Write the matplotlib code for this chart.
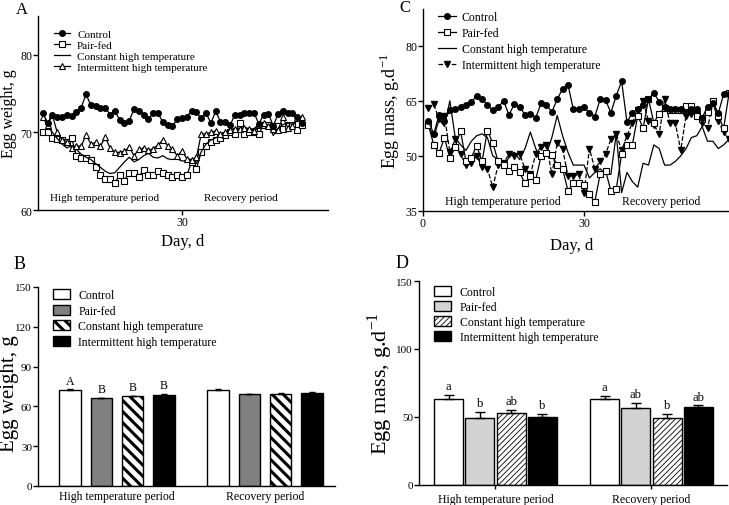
import numpy as np
import matplotlib
matplotlib.use("Agg")
import matplotlib.pyplot as plt
from matplotlib.patches import Patch
from matplotlib.lines import Line2D

plt.rcParams['font.family'] = ['Liberation Serif', 'DejaVu Serif']
plt.rcParams['mathtext.fontset'] = 'custom'
plt.rcParams['mathtext.rm'] = 'Liberation Serif'
plt.rcParams['axes.linewidth'] = 1.0

# ---------------- data ----------------
series_names = ["Control", "Pair-fed", "Constant high temperature", "Intermittent high temperature"]
period_labels = ["High temperature period", "Recovery period"]

# Panel A: daily egg weight (g)
ctrl_A = [72.5, 71.2, 72.3, 72.0, 72.0, 72.3, 72.1, 72.6, 73.2, 74.9,
          73.5, 73.4, 73.2, 73.2, 72.3, 72.8, 71.6, 71.2, 71.5, 73.0,
          72.8, 72.3, 71.7, 72.5, 72.5, 71.3, 71.0, 70.8, 71.7, 71.9,
          72.0, 72.8, 72.6, 71.8, 72.5, 71.2, 72.7, 71.4, 71.4, 70.9,
          72.3, 72.3, 72.5, 72.5, 72.5, 71.1, 72.3, 72.4, 70.8, 72.4,
          72.8, 72.5, 72.5, 72.0, 71.2]
pf_A = [70.0, 70.0, 69.3, 69.2, 69.0, 68.8, 69.3, 67.0, 66.7, 66.7,
        66.5, 65.5, 64.5, 64.0, 64.0, 63.5, 64.5, 63.8, 64.8, 64.8,
        64.3, 65.2, 64.5, 64.5, 65.0, 64.8, 64.5, 64.3, 64.5, 64.3,
        64.5, 66.2, 65.3, 67.5, 68.3, 68.8, 69.0, 69.3, 69.7, 70.0,
        69.8, 71.2, 69.8, 70.0, 70.0, 69.8, 71.0, 71.0, 70.8, 70.8,
        70.5, 70.8, 71.0, 70.3, 71.0]
const_A = [72.0, 70.8, 70.0, 69.2, 68.5, 68.0, 68.3, 67.8, 67.2, 66.8,
           66.5, 66.0, 65.5, 65.0, 64.7, 64.8, 65.5, 66.2, 66.8, 66.2,
           66.5, 67.0, 67.3, 66.8, 66.7, 67.0, 66.6, 66.5, 66.6, 66.3,
           66.4, 66.5, 66.0, 67.5, 68.5, 69.0, 69.3, 69.6, 70.0, 70.3,
           70.5, 70.3, 70.6, 70.4, 70.5, 71.0, 70.8, 71.0, 69.6, 70.5,
           71.0, 71.3, 71.0, 71.5, 71.6]
int_A = [72.0, 71.0, 72.2, 70.0, 69.0, 68.8, 68.0, 68.3, 68.2, 69.7,
         68.5, 68.7, 68.2, 69.4, 68.0, 67.5, 67.4, 67.6, 68.1, 67.0,
         67.8, 68.0, 67.7, 67.9, 68.4, 69.0, 68.3, 67.8, 67.0, 67.6,
         66.6, 66.5, 66.8, 69.8, 69.8, 70.0, 70.2, 69.8, 70.0, 70.3,
         70.5, 70.5, 70.6, 70.5, 70.2, 71.0, 71.2, 70.8, 70.5, 70.3,
         72.0, 70.6, 70.8, 71.8, 72.0]

# Panel C: daily egg mass (g/d)
ctrl_C = [59.5, 56.0, 61.2, 59.6, 62.4, 62.7, 63.4, 63.8, 64.6, 66.4,
          65.6, 63.8, 62.4, 63.2, 65.0, 61.2, 64.0, 63.4, 61.2, 61.5,
          60.4, 64.3, 63.8, 62.0, 65.4, 68.3, 69.4, 62.7, 62.7, 63.2,
          61.8, 60.7, 65.4, 65.2, 61.8, 66.4, 70.3, 59.2, 61.8, 62.7,
          63.8, 65.4, 67.2, 64.7, 63.4, 62.7, 62.7, 62.7, 61.8, 62.7,
          62.7, 60.4, 63.4, 64.5, 61.6, 66.8, 66.8]
pf_C = [58.5, 53.0, 50.8, 55.0, 49.3, 52.5, 56.8, 48.5, 49.5, 52.8,
        48.5, 56.9, 53.5, 48.5, 47.5, 46.0, 47.0, 45.5, 42.5, 44.5,
        43.5, 50.0, 50.8, 50.3, 47.5, 46.5, 40.5, 42.5, 42.5, 42.0,
        39.5, 37.5, 45.0, 46.0, 40.5, 41.0, 50.5, 53.0, 53.0, 61.0,
        57.5, 65.5, 59.0, 61.5, 63.0, 62.5, 62.5, 62.5, 63.5, 63.5,
        61.0, 60.0, 62.0, 65.0, 61.0, 57.5, 67.0]
const_C = [58.5, 55.0, 60.0, 58.0, 65.0, 55.0, 53.0, 51.5, 54.0, 55.5,
           56.0, 55.0, 50.0, 49.0, 47.5, 49.5, 51.0, 49.0, 52.0, 56.5,
           52.0, 49.5, 50.5, 55.0, 61.0, 55.5, 51.0, 47.5, 47.5, 47.5,
           44.0, 45.5, 46.5, 45.0, 45.0, 56.0, 40.0, 45.5, 43.0, 41.5,
           48.0, 47.5, 53.0, 52.0, 47.5, 47.5, 48.5, 50.0, 52.0, 55.0,
           55.5, 58.0, 54.0, 54.0, 52.0, 53.0, 54.5]
int_C = [63.0, 64.0, 60.0, 61.0, 51.0, 54.5, 50.5, 47.5, 48.0, 50.0,
         47.0, 46.5, 41.5, 47.5, 48.0, 50.5, 50.0, 50.5, 46.5, 45.0,
         50.5, 52.5, 53.0, 45.0, 53.5, 52.0, 44.5, 44.5, 45.0, 40.0,
         52.0, 46.5, 48.5, 50.5, 54.5, 56.0, 51.5, 55.5, 59.0, 62.5,
         65.0, 59.5, 58.5, 56.0, 65.5, 59.0, 59.0, 51.5, 61.0, 61.5,
         61.5, 59.0, 57.5, 64.5, 59.5, 56.5, 54.5]

# Panel B: mean egg weight per period (g) and SEM
egg_weight_means = [[72.0, 66.0, 67.5, 68.5], [72.0, 69.0, 69.5, 70.0]]
egg_weight_sem = [[0.8, 0.7, 0.6, 0.8], [0.8, 0.7, 0.6, 0.6]]
egg_weight_letters = [["A", "B", "B", "B"], ["", "", "", ""]]

# Panel D: mean egg mass per period (g/d) and SEM
egg_mass_means = [[63.0, 49.0, 53.0, 50.0], [63.0, 56.5, 49.0, 57.0]]
egg_mass_sem = [[3.0, 5.0, 2.0, 2.5], [2.5, 4.0, 3.5, 1.5]]
egg_mass_letters = [["a", "b", "ab", "b"], ["a", "ab", "b", "ab"]]

# ---------------- figure ----------------
W, H = 729, 506
fig = plt.figure(figsize=(W / 100, H / 100), dpi=100)


def px_axes(l, t, r, b):
    return fig.add_axes([l / W, 1 - b / H, (r - l) / W, (b - t) / H])


def style(ax, fs):
    for s in ('top', 'right'):
        ax.spines[s].set_visible(False)
    ax.tick_params(direction='out', length=3.5, width=1, labelsize=fs, pad=0.8)


lw = 0.9
# ---- Panel A ----
axA = px_axes(38, 17, 328, 211)
style(axA, 8.5)
dA = np.arange(1, len(ctrl_A) + 1)
axA.plot(dA, pf_A, '-', color='black', lw=lw, marker='s', ms=4, mfc='white', mec='black', mew=0.8)
axA.plot(dA, const_A, '-', color='black', lw=lw)
axA.plot(dA, int_A, '-', color='black', lw=lw, marker='^', ms=4.5, mfc='white', mec='black', mew=0.8)
axA.plot(dA, ctrl_A, '-', color='black', lw=lw, marker='o', ms=4, mfc='black', mec='black')
axA.set_xlim(0, 60.4)
axA.set_ylim(60, 85)
axA.set_xticks([30])
axA.set_yticks([60, 70, 80])
axA.set_xlabel("Day, d", fontsize=12)
axA.xaxis.set_label_coords(0.497, -0.12)
axA.set_ylabel("Egg weight, g", fontsize=11.5)
axA.yaxis.set_label_coords(-0.072, 0.5)
axA.text(2.5, 61.6, period_labels[0], fontsize=8, va='center')
axA.text(34.5, 61.6, period_labels[1], fontsize=8, va='center')
hA = [Line2D([], [], color='black', lw=lw, marker='o', ms=4, mfc='black'),
      Line2D([], [], color='black', lw=lw, marker='s', ms=4, mfc='white', mew=0.8),
      Line2D([], [], color='black', lw=lw),
      Line2D([], [], color='black', lw=lw, marker='^', ms=4.5, mfc='white', mew=0.8)]
axA.legend(hA, series_names, loc='upper left', bbox_to_anchor=(0.035, 0.96), frameon=False,
           fontsize=8, handlelength=1.5, labelspacing=0.1, borderpad=0, handletextpad=0.6)

# ---- Panel C ----
axC = px_axes(423, 10, 729, 212)
style(axC, 8.5)
dC = np.arange(1, len(ctrl_C) + 1)
axC.plot(dC, const_C, '-', color='black', lw=lw)
axC.plot(dC, int_C, '--', color='black', lw=lw, marker='v', ms=4, mfc='black', mec='black')
axC.plot(dC, pf_C, '-', color='black', lw=lw, marker='s', ms=4, mfc='white', mec='black', mew=0.8)
axC.plot(dC, ctrl_C, '-', color='black', lw=lw, marker='o', ms=4, mfc='black', mec='black')
axC.set_xlim(0, 57.0)
axC.set_ylim(35, 90)
axC.set_xticks([0, 30])
axC.set_yticks([35, 50, 65, 80])
axC.set_xlabel("Day, d", fontsize=12)
axC.xaxis.set_label_coords(0.487, -0.13)
axC.set_ylabel(r"Egg mass, g.d$^{\mathregular{-1}}$", fontsize=13)
axC.yaxis.set_label_coords(-0.068, 0.5)
axC.text(4.1, 37.6, period_labels[0], fontsize=8.5, va='center')
axC.text(37.0, 37.6, period_labels[1], fontsize=8.5, va='center')
hC = [Line2D([], [], color='black', lw=lw, marker='o', ms=4, mfc='black'),
      Line2D([], [], color='black', lw=lw, marker='s', ms=4, mfc='white', mew=0.8),
      Line2D([], [], color='black', lw=lw),
      Line2D([], [], color='black', lw=lw, ls='--', marker='v', ms=4, mfc='black')]
axC.legend(hC, series_names, loc='upper left', bbox_to_anchor=(0.03, 1.02), frameon=False,
           fontsize=8.5, handlelength=1.5, labelspacing=0.35, borderpad=0, handletextpad=0.5)


# ---- bar panels ----
def bar_panel(ax, means, sems, letters, faces, hatches, hatch_lw, spacing, width, capsize, fs_letter):
    groups = np.arange(len(means))
    n = len(means[0])
    handles = []
    for i in range(n):
        xs = groups + (i - (n - 1) / 2) * spacing
        vals = [m[i] for m in means]
        errs = [s[i] for s in sems]
        bars = ax.bar(xs, vals, width=width, color=faces[i], edgecolor='black',
                      linewidth=1.0, hatch=hatches[i], zorder=2)
        for b in bars:
            try:
                b.set_hatch_linewidth(hatch_lw)
            except AttributeError:
                pass
        ax.errorbar(xs, vals, yerr=[np.zeros(len(errs)), errs], fmt='none', ecolor='black',
                    elinewidth=1.0, capsize=capsize, capthick=1.0, zorder=3)
        for x, v, e, g in zip(xs, vals, errs, groups):
            lab = letters[g][i]
            if lab:
                ax.annotate(lab, (x, v + e), xytext=(0, 2), textcoords='offset points',
                            ha='center', va='bottom', fontsize=fs_letter)
        p = Patch(facecolor=faces[i], edgecolor='black', hatch=hatches[i], linewidth=1.0)
        try:
            p.set_hatch_linewidth(hatch_lw)
        except AttributeError:
            pass
        handles.append(p)
    return handles


# ---- Panel B ----
plt.rcParams['hatch.linewidth'] = 2.2
axB = px_axes(38, 288, 335, 487)
style(axB, 8)
hB = bar_panel(axB, egg_weight_means, egg_weight_sem, egg_weight_letters,
               ['white', '#808080', 'white', 'black'], [None, None, '\\\\\\', None], 2.2,
               spacing=0.212, width=0.145, capsize=2, fs_letter=8.5)
axB.set_xlim(-0.534, 1.473)
axB.set_ylim(0, 150)
axB.set_yticks([0, 30, 60, 90, 120, 150])
axB.set_xticks([0, 1])
axB.set_xticklabels(period_labels, fontsize=8.5)
axB.tick_params(axis='x', length=0, pad=3)
axB.set_ylabel("Egg weight, g", fontsize=15)
axB.yaxis.set_label_coords(-0.065, 0.47)
axB.legend(hB, series_names, loc='upper left', bbox_to_anchor=(0.03, 1.02), frameon=False,
           fontsize=8.5, handlelength=1.45, handleheight=0.95, labelspacing=0.3, borderpad=0,
           handletextpad=0.7)

# ---- Panel D ----
plt.rcParams['hatch.linewidth'] = 0.6
axD = px_axes(419, 282, 727, 486)
style(axD, 8)
hD = bar_panel(axD, egg_mass_means, egg_mass_sem, egg_mass_letters,
               ['white', '#d3d3d3', 'white', 'black'], [None, None, '//////', None], 0.6,
               spacing=0.2, width=0.186, capsize=3.5, fs_letter=9)
axD.set_xlim(-0.49, 1.484)
axD.set_ylim(0, 150)
axD.set_yticks([0, 50, 100, 150])
axD.set_xticks([0, 1])
axD.set_xticklabels(period_labels, fontsize=8.5)
axD.tick_params(axis='x', length=3, pad=3)
axD.set_ylabel(r"Egg mass, g.d$^{\mathregular{-1}}$", fontsize=16)
axD.yaxis.set_label_coords(-0.078, 0.5)
axD.legend(hD, series_names, loc='upper left', bbox_to_anchor=(0.03, 1.005), frameon=False,
           fontsize=8.5, handlelength=1.45, handleheight=0.95, labelspacing=0.25, borderpad=0,
           handletextpad=0.7)

# panel letters
fig.text(22 / W, 1 - 10 / H, "A", fontsize=12, ha='center', va='center')
fig.text(405 / W, 1 - 8 / H, "C", fontsize=12, ha='center', va='center')
fig.text(20 / W, 1 - 265 / H, "B", fontsize=13, ha='center', va='center')
fig.text(402 / W, 1 - 264 / H, "D", fontsize=13, ha='center', va='center')

fig.savefig("out.png", dpi=100)
